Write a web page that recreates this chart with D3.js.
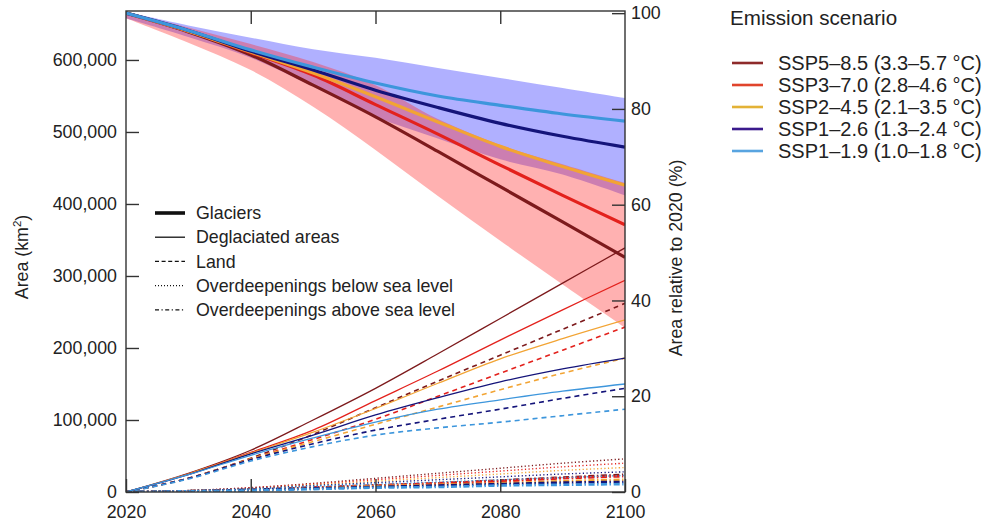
<!DOCTYPE html>
<html>
<head>
<meta charset="utf-8">
<script src="https://cdn.jsdelivr.net/npm/d3@7"></script>
<style>
  body { margin: 0; background: #fff; }
  text { font-family: "Liberation Sans", Arial, Helvetica, sans-serif; fill: #222; }
</style>
</head>
<body>
<svg id="chart" width="990" height="523"></svg>
<script>
// Years sampled every decade
const years = [2020, 2030, 2040, 2050, 2060, 2070, 2080, 2090, 2100];

// Scenario labels, listed from highest to lowest emissions
const scenarios = [
  "SSP5–8.5 (3.3–5.7 °C)",
  "SSP3–7.0 (2.8–4.6 °C)",
  "SSP2–4.5 (2.1–3.5 °C)",
  "SSP1–2.6 (1.3–2.4 °C)",
  "SSP1–1.9 (1.0–1.8 °C)"
];

// Glacier area in 2020 (km²), the 100 % reference of the right axis
const initialArea = 665000;

// Glacier area (km²), one row per scenario
const glacierArea = [
  [665000, 639000, 607000, 565000, 521000, 473000, 424000, 375000, 326000],
  [665000, 640000, 610000, 579000, 538000, 497000, 454000, 412000, 371000],
  [665000, 640000, 611000, 582000, 549000, 514000, 480000, 452000, 426000],
  [665000, 641000, 612000, 586000, 558000, 534000, 512000, 494000, 479000],
  [665000, 641000, 614000, 590000, 568000, 550000, 537000, 525000, 515000]
];

// Deglaciated area (km²)
const deglaciatedArea = [
  [0, 26000, 58000, 100000, 144000, 192000, 241000, 290000, 339000],
  [0, 25000, 55000, 86000, 127000, 168000, 211000, 253000, 294000],
  [0, 25000, 54000, 83000, 116000, 151000, 185000, 213000, 239000],
  [0, 24000, 53000, 79000, 107000, 131000, 153000, 171000, 186000],
  [0, 24000, 51000, 75000, 97000, 115000, 128000, 140000, 150000]
];

// Newly exposed land (km²)
const landArea = [
  [0, 19000, 47000, 80000, 117000, 154000, 190000, 226000, 262000],
  [0, 19000, 46000, 73000, 101000, 133000, 165000, 197000, 229000],
  [0, 19000, 46000, 70000, 94000, 118000, 142000, 165000, 186000],
  [0, 19000, 45000, 67000, 86000, 101000, 115000, 130000, 144000],
  [0, 18000, 43000, 63000, 79000, 89000, 97000, 106000, 115000]
];

// Overdeepenings below sea level (km²)
const belowSeaArea = [
  [0, 2000, 6000, 12000, 19000, 26000, 33000, 40000, 46000],
  [0, 2000, 6000, 11000, 17000, 23000, 29000, 35000, 40000],
  [0, 2000, 5000, 10000, 15000, 20000, 25000, 30000, 34000],
  [0, 2000, 5000, 9000, 13000, 17000, 21000, 25000, 28000],
  [0, 2000, 4000, 8000, 11000, 14000, 17000, 20000, 23000]
];

// Overdeepenings above sea level (km²)
const aboveSeaArea = [
  [0, 1000, 3000, 6000, 9000, 12000, 16000, 20000, 24000],
  [0, 1000, 3000, 6000, 9000, 12000, 15000, 19000, 22000],
  [0, 1000, 3000, 5000, 8000, 10000, 12000, 15000, 17000],
  [0, 1000, 3000, 5000, 7000, 9000, 11000, 13000, 14000],
  [0, 1000, 2000, 4000, 6000, 7000, 9000, 10000, 11000]
];

// Uncertainty range of glacier area, SSP1–2.6 (blue) and SSP5–8.5 (red)
const lowBandUpper  = [667000, 648000, 631000, 615000, 603000, 589000, 575000, 561000, 547000];
const lowBandLower  = [658000, 632000, 603000, 563000, 521000, 491000, 462000, 441000, 412000];
const highBandUpper = [667000, 645000, 622000, 597000, 565000, 518000, 482000, 455000, 429000];
const highBandLower = [658000, 624000, 586000, 535000, 475000, 411000, 349000, 288000, 228000];

// Tick values
const leftTicks = [0, 100000, 200000, 300000, 400000, 500000, 600000];
const rightTicks = [0, 20, 40, 60, 80, 100];
const yearTicks = [2020, 2040, 2060, 2080, 2100];

// Line type legend entries
const lineTypes = ["Glaciers", "Deglaciated areas", "Land", "Overdeepenings below sea level", "Overdeepenings above sea level"];

// ---- styling ----
const colors = ["#7d1a1c", "#e3211c", "#f2a434", "#14147a", "#3d96dc"];
const legendColors = ["#8e2a2a", "#e0442c", "#e3b236", "#3a1a8c", "#58a4e0"];
const lineStyles = [
  { w: 3.2, dash: null },
  { w: 1.3, dash: null },
  { w: 1.6, dash: "5,4" },
  { w: 1.4, dash: "1.2,2.4" },
  { w: 2.6, dash: "6,2.5,1.5,2.5" }
];

const svg = d3.select("#chart");
const m = { left: 126, right: 625, top: 11, bottom: 492 };

const x = d3.scaleLinear().domain([2020, 2100]).range([m.left, m.right]);
const y = d3.scaleLinear().domain([0, 668000]).range([m.bottom, m.top]);
const yPct = d3.scaleLinear().domain([0, 668000 / initialArea * 100]).range([m.bottom, m.top]);

const curve = d3.curveCatmullRom.alpha(0.5);
const line = d3.line().x((d, i) => x(years[i])).y(d => y(d)).curve(curve);
const area = (upper, lower) => d3.area()
  .x((d, i) => x(years[i]))
  .y0((d, i) => y(lower[i]))
  .y1((d, i) => y(upper[i]))
  .curve(curve)(upper);

const clipId = "plotClip";
svg.append("defs").append("clipPath").attr("id", clipId)
  .append("rect").attr("x", m.left).attr("y", m.top)
  .attr("width", m.right - m.left).attr("height", m.bottom - m.top);
const plot = svg.append("g").attr("clip-path", `url(#${clipId})`);

// Uncertainty bands
plot.append("path").attr("d", area(lowBandUpper, lowBandLower))
  .attr("fill", "rgb(90,90,255)").attr("fill-opacity", 0.48);
plot.append("path").attr("d", area(highBandUpper, highBandLower))
  .attr("fill", "rgb(255,40,40)").attr("fill-opacity", 0.36);

// Thin lines per category
const thinSets = [aboveSeaArea, belowSeaArea, landArea, deglaciatedArea];
const thinStyleIdx = [4, 3, 2, 1];
thinSets.forEach((set, k) => {
  const st = lineStyles[thinStyleIdx[k]];
  set.forEach((vals, s) => {
    plot.append("path").attr("d", line(vals))
      .attr("fill", "none").attr("stroke", colors[s])
      .attr("stroke-width", st.w)
      .attr("stroke-dasharray", st.dash);
  });
});

// Glacier area lines
glacierArea.forEach((vals, s) => {
  plot.append("path").attr("d", line(vals))
    .attr("fill", "none").attr("stroke", colors[s])
    .attr("stroke-width", lineStyles[0].w);
});

// ---- axes ----
const axisColor = "#333";
const tickLen = 13;
const fontSize = 17.8;

svg.append("rect").attr("x", m.left).attr("y", m.top)
  .attr("width", m.right - m.left).attr("height", m.bottom - m.top)
  .attr("fill", "none").attr("stroke", axisColor).attr("stroke-width", 1.4);

const leftAxis = d3.axisLeft(y).tickValues(leftTicks).tickSizeInner(-tickLen).tickSizeOuter(0)
  .tickPadding(9).tickFormat(d3.format(","));
const gl = svg.append("g").attr("transform", `translate(${m.left},0)`).call(leftAxis);

const rightAxis = d3.axisRight(yPct).tickValues(rightTicks).tickSizeInner(-tickLen).tickSizeOuter(0)
  .tickPadding(6);
const gr = svg.append("g").attr("transform", `translate(${m.right},0)`).call(rightAxis);

const bottomAxis = d3.axisBottom(x).tickValues(yearTicks).tickSizeInner(-tickLen).tickSizeOuter(0)
  .tickPadding(13).tickFormat(d3.format("d"));
const gb = svg.append("g").attr("transform", `translate(0,${m.bottom})`).call(bottomAxis);

const topAxis = d3.axisTop(x).tickValues(yearTicks.slice(1, -1)).tickSizeInner(-tickLen).tickSizeOuter(0)
  .tickFormat("");
const gt = svg.append("g").attr("transform", `translate(0,${m.top})`).call(topAxis);

[gl, gr, gb, gt].forEach(g => {
  g.select(".domain").remove();
  g.selectAll("line").attr("stroke", axisColor).attr("stroke-width", 1.4);
  g.selectAll("text").attr("font-size", fontSize).attr("fill", "#222")
    .style("font-family", '"Liberation Sans", Arial, sans-serif');
});

// Axis titles
const yTitle = svg.append("text").attr("transform", "translate(28,257) rotate(-90)")
  .attr("text-anchor", "middle").attr("font-size", fontSize);
yTitle.append("tspan").text("Area (km");
yTitle.append("tspan").text("2").attr("font-size", 11.5).attr("dy", -7);
yTitle.append("tspan").text(")").attr("dy", 7);

svg.append("text").attr("transform", "translate(682,258) rotate(-90)")
  .attr("text-anchor", "middle").attr("font-size", fontSize)
  .text("Area relative to 2020 (%)");

// Line type legend
const lt = svg.append("g").attr("transform", "translate(155,213)");
lineTypes.forEach((name, i) => {
  const gy = i * 24.2;
  const dashes = [null, null, "4,2.6", "1,2", "4,2.5,1.2,2.5"];
  lt.append("line").attr("x1", 0).attr("x2", 30).attr("y1", gy).attr("y2", gy)
    .attr("stroke", "#111").attr("stroke-width", i === 0 ? 3.6 : 1.3)
    .attr("stroke-dasharray", dashes[i]);
  lt.append("text").attr("x", 41).attr("y", gy).attr("dy", "0.35em")
    .attr("font-size", fontSize).text(name);
});

// Scenario legend
const sl = svg.append("g").attr("transform", "translate(727,0)");
sl.append("text").attr("x", 3).attr("y", 18).attr("dy", "0.35em")
  .attr("font-size", 20.6).text("Emission scenario");
scenarios.forEach((name, i) => {
  const gy = 63 + i * 22;
  sl.append("line").attr("x1", 5).attr("x2", 36).attr("y1", gy).attr("y2", gy)
    .attr("stroke", legendColors[i]).attr("stroke-width", 2.6);
  sl.append("text").attr("x", 51).attr("y", gy).attr("dy", "0.35em")
    .attr("font-size", 20).text(name);
});
</script>
</body>
</html>
